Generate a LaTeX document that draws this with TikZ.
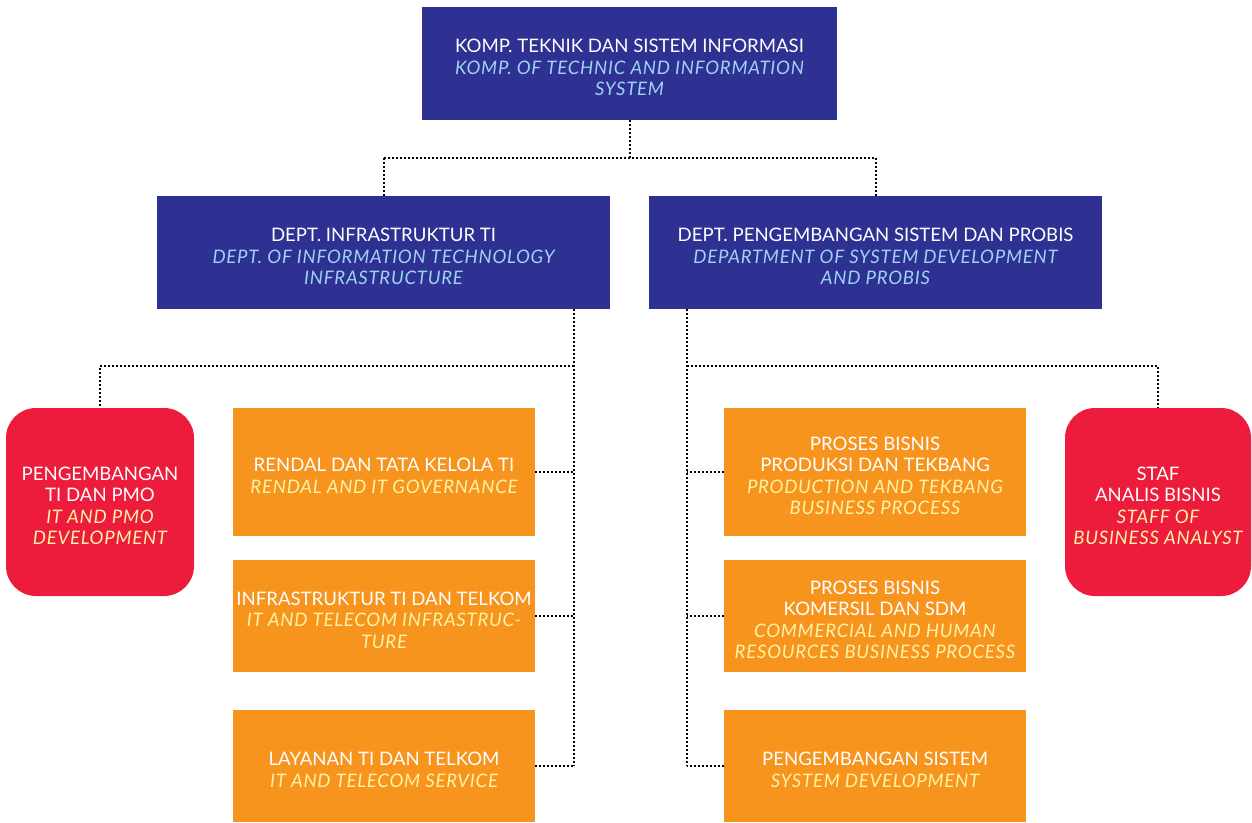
\documentclass[tikz,border=0pt]{standalone}
\usepackage{fontspec}
\setmainfont{Lato}[ItalicFeatures={LetterSpace=4.0}]
\definecolor{navy}{HTML}{2E3192}
\definecolor{skyit}{HTML}{9DD3F3}
\definecolor{orangebox}{HTML}{F7941E}
\definecolor{redbox}{HTML}{ED1B3C}
\definecolor{creamit}{HTML}{FFF3A6}
\begin{document}
\begin{tikzpicture}[x=1pt,y=-1pt,
  caption/.style={inner sep=0pt, align=center, text=white,
    font=\fontsize{18.6}{21.5}\selectfont, yshift=-4pt},
  deptbox/.style={fill=navy, minimum height=113pt},
  unitbox/.style={fill=orangebox, minimum width=302pt},
  staffbox/.style={fill=redbox, rounded corners=30pt, minimum height=188pt},
  link/.style={draw=black, line width=2pt, dash pattern=on 2pt off 2pt}]
\useasboundingbox (0,0) rectangle (1252,822);

% head of the compartment
\node[deptbox, minimum width=415pt, label={[caption]center:{%
   KOMP. TEKNIK DAN SISTEM INFORMASI\\
   {\itshape\color{skyit}KOMP. OF TECHNIC AND INFORMATION}\\
   {\itshape\color{skyit}SYSTEM}}}] (top) at (629.5,63.5) {};

% departments
\node[deptbox, minimum width=453pt, label={[caption]center:{%
   DEPT. INFRASTRUKTUR TI\\
   {\itshape\color{skyit}DEPT. OF INFORMATION TECHNOLOGY}\\
   {\itshape\color{skyit}INFRASTRUCTURE}}}] (deptL) at (383.5,252.5) {};
\node[deptbox, minimum width=453pt, label={[caption]center:{%
   DEPT. PENGEMBANGAN SISTEM DAN PROBIS\\
   {\itshape\color{skyit}DEPARTMENT OF SYSTEM DEVELOPMENT}\\
   {\itshape\color{skyit}AND PROBIS}}}] (deptR) at (875.5,252.5) {};

% staff units
\node[staffbox, minimum width=188pt, label={[caption]center:{%
   PENGEMBANGAN\\TI DAN PMO\\
   {\itshape\color{creamit}IT AND PMO}\\
   {\itshape\color{creamit}DEVELOPMENT}}}] (redL) at (100,502) {};
\node[staffbox, minimum width=186pt, label={[caption]center:{%
   STAF\\ANALIS BISNIS\\
   {\itshape\color{creamit}STAFF OF}\\
   {\itshape\color{creamit}BUSINESS ANALYST}}}] (redR) at (1158,502) {};

% units under the infrastructure department
\node[unitbox, minimum height=128pt, label={[caption]center:{%
   RENDAL DAN TATA KELOLA TI\\
   {\itshape\color{creamit}RENDAL AND IT GOVERNANCE}}}] (oL1) at (384,472) {};
\node[unitbox, minimum height=112pt, label={[caption]center:{%
   INFRASTRUKTUR TI DAN TELKOM\\
   {\itshape\color{creamit}IT AND TELECOM INFRASTRUC-}\\
   {\itshape\color{creamit}TURE}}}] (oL2) at (384,616) {};
\node[unitbox, minimum height=112pt, label={[caption]center:{%
   LAYANAN TI DAN TELKOM\\
   {\itshape\color{creamit}IT AND TELECOM SERVICE}}}] (oL3) at (384,766) {};

% units under the system development department
\node[unitbox, minimum height=128pt, label={[caption]center:{%
   PROSES BISNIS\\PRODUKSI DAN TEKBANG\\
   {\itshape\color{creamit}PRODUCTION AND TEKBANG}\\
   {\itshape\color{creamit}BUSINESS PROCESS}}}] (oR1) at (875,472) {};
\node[unitbox, minimum height=112pt, label={[caption]center:{%
   PROSES BISNIS\\KOMERSIL DAN SDM\\
   {\itshape\color{creamit}COMMERCIAL AND HUMAN}\\
   {\itshape\color{creamit}RESOURCES BUSINESS PROCESS}}}] (oR2) at (875,616) {};
\node[unitbox, minimum height=112pt, label={[caption]center:{%
   PENGEMBANGAN SISTEM\\
   {\itshape\color{creamit}SYSTEM DEVELOPMENT}}}] (oR3) at (875,766) {};

% connectors
\coordinate (topJ) at (629.5,158);
\coordinate (lBus) at (574,309);
\coordinate (rBus) at (687,309);
\coordinate (lJ) at (574,366);
\coordinate (rJ) at (687,366);

\draw[link] (top.south) -- (topJ);
\draw[link] (deptL.north |- topJ) -- (deptR.north |- topJ);
\draw[link] (deptL.north |- topJ) -- (deptL.north);
\draw[link] (deptR.north |- topJ) -- (deptR.north);

\draw[link] (lBus) -- (lBus |- oL3.east);
\draw[link] (lJ) -| (redL.north);
\draw[link] (oL1.east) -- (oL1.east -| lBus);
\draw[link] (oL2.east) -- (oL2.east -| lBus);
\draw[link] (oL3.east) -- (oL3.east -| lBus);

\draw[link] (rBus) -- (rBus |- oR3.west);
\draw[link] (rJ) -| (redR.north);
\draw[link] (oR1.west) -- (oR1.west -| rBus);
\draw[link] (oR2.west) -- (oR2.west -| rBus);
\draw[link] (oR3.west) -- (oR3.west -| rBus);
\end{tikzpicture}
\end{document}
